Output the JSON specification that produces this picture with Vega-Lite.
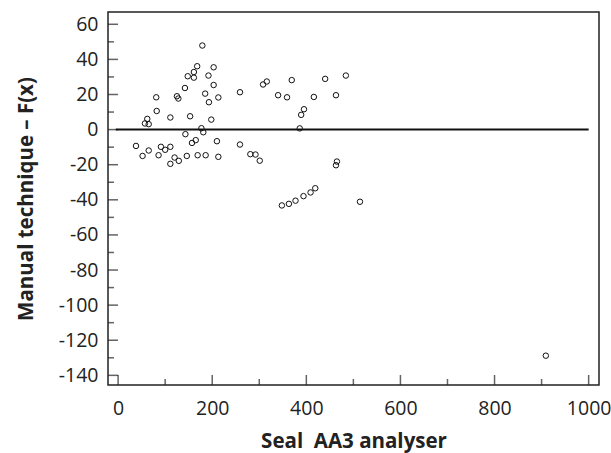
{
  "$schema": "https://vega.github.io/schema/vega-lite/v6.json",
  "width": 491,
  "height": 373,
  "autosize": "none",
  "padding": {"left": 108, "top": 12, "right": 12, "bottom": 68},
  "background": "white",
  "config": {
    "view": {"stroke": "#222", "strokeWidth": 1.5},
    "font": "Open Sans",
    "axis": {
      "domain": false,
      "ticks": false,
      "tickSize": 0,
      "grid": false,
      "labelFont": "Open Sans",
      "labelFontSize": 19.5,
      "labelColor": "#222",
      "labelOverlap": false,
      "titleFont": "Open Sans",
      "titleFontSize": 20.5,
      "titleFontWeight": "bold",
      "titleColor": "#222"
    }
  },
  "datasets": {
    "pts": [
      {"x": 38, "y": -9.3}, {"x": 52, "y": -15}, {"x": 57, "y": 3.5}, {"x": 62, "y": 6.1},
      {"x": 65, "y": 3.1}, {"x": 65, "y": -11.9}, {"x": 81, "y": 18.4}, {"x": 82, "y": 10.6},
      {"x": 86, "y": -14.6}, {"x": 91, "y": -9.8}, {"x": 100, "y": -11.5}, {"x": 111, "y": 6.9},
      {"x": 111, "y": -9.8}, {"x": 111, "y": -19.5}, {"x": 120, "y": -15.9}, {"x": 125, "y": 19},
      {"x": 128, "y": 17.7}, {"x": 129, "y": -17.8}, {"x": 142, "y": 23.7}, {"x": 143, "y": -2.6},
      {"x": 146, "y": -15}, {"x": 148, "y": 30.4}, {"x": 153, "y": 7.6}, {"x": 157, "y": -7.6},
      {"x": 161, "y": 32.8}, {"x": 161, "y": 29.6}, {"x": 165, "y": -6}, {"x": 168, "y": 36.1},
      {"x": 169, "y": -14.6}, {"x": 177, "y": 0.8}, {"x": 179, "y": 47.9}, {"x": 181, "y": -1.5},
      {"x": 185, "y": 20.5}, {"x": 186, "y": -14.6}, {"x": 192, "y": 30.8}, {"x": 193, "y": 15.6},
      {"x": 198, "y": 5.7}, {"x": 203, "y": 35.5}, {"x": 203, "y": 25.4}, {"x": 210, "y": -6.6},
      {"x": 213, "y": 18.3}, {"x": 213, "y": -15.5}, {"x": 259, "y": 21.3}, {"x": 259, "y": -8.5},
      {"x": 281, "y": -14}, {"x": 292, "y": -14.2}, {"x": 301, "y": -17.7}, {"x": 308, "y": 25.7},
      {"x": 316, "y": 27.4}, {"x": 340, "y": 19.6}, {"x": 348, "y": -43.2}, {"x": 359, "y": 18.4},
      {"x": 363, "y": -42.3}, {"x": 369, "y": 28.2}, {"x": 377, "y": -40.5}, {"x": 386, "y": 0.7},
      {"x": 389, "y": 8.4}, {"x": 395, "y": 11.6}, {"x": 394, "y": -37.9}, {"x": 409, "y": -35.8},
      {"x": 416, "y": 18.6}, {"x": 419, "y": -33.4}, {"x": 440, "y": 28.9}, {"x": 463, "y": 19.6},
      {"x": 463, "y": -20.3}, {"x": 465, "y": -18.2}, {"x": 484, "y": 30.8}, {"x": 514, "y": -41.1},
      {"x": 909, "y": -128.8}
    ],
    "zero": [{"x0": -5, "x1": 1000, "y": 0}],
    "xmajor": [{"v": 0}, {"v": 200}, {"v": 400}, {"v": 600}, {"v": 800}, {"v": 1000}],
    "xminor": [{"v": 100}, {"v": 300}, {"v": 500}, {"v": 700}, {"v": 900}],
    "ymajor": [{"v": -140}, {"v": -120}, {"v": -100}, {"v": -80}, {"v": -60}, {"v": -40}, {"v": -20}, {"v": 0}, {"v": 20}, {"v": 40}, {"v": 60}],
    "yminor": [{"v": -130}, {"v": -110}, {"v": -90}, {"v": -70}, {"v": -50}, {"v": -30}, {"v": -10}, {"v": 10}, {"v": 30}, {"v": 50}]
  },
  "layer": [
    {
      "data": {"name": "xmajor"},
      "mark": {"type": "tick", "orient": "vertical", "size": 20, "thickness": 1.5, "color": "#222", "clip": true},
      "encoding": {
        "x": {"field": "v", "type": "quantitative", "scale": {"domain": [-21.5, 1022], "nice": false, "zero": false},
          "axis": {"orient": "bottom", "title": "Seal\u00a0 AA3 analyser", "values": [0, 200, 400, 600, 800, 1000], "format": "d", "labelPadding": 14, "titlePadding": 14}},
        "y": {"datum": -145.5, "type": "quantitative", "scale": {"domain": [-145.5, 67], "nice": false, "zero": false},
          "axis": {"orient": "left", "title": "Manual technique \u2013 F(x)", "values": [-140, -120, -100, -80, -60, -40, -20, 0, 20, 40, 60], "labelExpr": "replace(datum.label, '\u2212', '-')", "format": "d", "labelPadding": 10, "titlePadding": 22}}
      }
    },
    {
      "data": {"name": "xminor"},
      "mark": {"type": "tick", "orient": "vertical", "size": 12, "thickness": 1.5, "color": "#222", "clip": true},
      "encoding": {
        "x": {"field": "v", "type": "quantitative",
          "axis": {"orient": "bottom", "title": "Seal\u00a0 AA3 analyser", "values": [0, 200, 400, 600, 800, 1000], "format": "d", "labelPadding": 14, "titlePadding": 14}},
        "y": {"datum": -145.5, "type": "quantitative",
          "axis": {"orient": "left", "title": "Manual technique \u2013 F(x)", "values": [-140, -120, -100, -80, -60, -40, -20, 0, 20, 40, 60], "labelExpr": "replace(datum.label, '\u2212', '-')", "format": "d", "labelPadding": 10, "titlePadding": 22}}
      }
    },
    {
      "data": {"name": "ymajor"},
      "mark": {"type": "tick", "orient": "horizontal", "size": 20, "thickness": 1.5, "color": "#222", "clip": true},
      "encoding": {
        "y": {"field": "v", "type": "quantitative",
          "axis": {"orient": "left", "title": "Manual technique \u2013 F(x)", "values": [-140, -120, -100, -80, -60, -40, -20, 0, 20, 40, 60], "labelExpr": "replace(datum.label, '\u2212', '-')", "format": "d", "labelPadding": 10, "titlePadding": 22}},
        "x": {"datum": -21.5, "type": "quantitative",
          "axis": {"orient": "bottom", "title": "Seal\u00a0 AA3 analyser", "values": [0, 200, 400, 600, 800, 1000], "format": "d", "labelPadding": 14, "titlePadding": 14}}
      }
    },
    {
      "data": {"name": "yminor"},
      "mark": {"type": "tick", "orient": "horizontal", "size": 12, "thickness": 1.5, "color": "#222", "clip": true},
      "encoding": {
        "y": {"field": "v", "type": "quantitative",
          "axis": {"orient": "left", "title": "Manual technique \u2013 F(x)", "values": [-140, -120, -100, -80, -60, -40, -20, 0, 20, 40, 60], "labelExpr": "replace(datum.label, '\u2212', '-')", "format": "d", "labelPadding": 10, "titlePadding": 22}},
        "x": {"datum": -21.5, "type": "quantitative",
          "axis": {"orient": "bottom", "title": "Seal\u00a0 AA3 analyser", "values": [0, 200, 400, 600, 800, 1000], "format": "d", "labelPadding": 14, "titlePadding": 14}}
      }
    },
    {
      "data": {"name": "zero"},
      "mark": {"type": "rule", "color": "#111", "strokeWidth": 2},
      "encoding": {
        "x": {"field": "x0", "type": "quantitative",
          "axis": {"orient": "bottom", "title": "Seal\u00a0 AA3 analyser", "values": [0, 200, 400, 600, 800, 1000], "format": "d", "labelPadding": 14, "titlePadding": 14}},
        "x2": {"field": "x1"},
        "y": {"field": "y", "type": "quantitative",
          "axis": {"orient": "left", "title": "Manual technique \u2013 F(x)", "values": [-140, -120, -100, -80, -60, -40, -20, 0, 20, 40, 60], "labelExpr": "replace(datum.label, '\u2212', '-')", "format": "d", "labelPadding": 10, "titlePadding": 22}}
      }
    },
    {
      "data": {"name": "pts"},
      "mark": {"type": "point", "shape": "circle", "filled": false, "stroke": "#111", "strokeWidth": 1, "size": 30, "opacity": 1},
      "encoding": {
        "x": {"field": "x", "type": "quantitative",
          "axis": {"orient": "bottom", "title": "Seal\u00a0 AA3 analyser", "values": [0, 200, 400, 600, 800, 1000], "format": "d", "labelPadding": 14, "titlePadding": 14}},
        "y": {"field": "y", "type": "quantitative",
          "axis": {"orient": "left", "title": "Manual technique \u2013 F(x)", "values": [-140, -120, -100, -80, -60, -40, -20, 0, 20, 40, 60], "labelExpr": "replace(datum.label, '\u2212', '-')", "format": "d", "labelPadding": 10, "titlePadding": 22}}
      }
    }
  ]
}
